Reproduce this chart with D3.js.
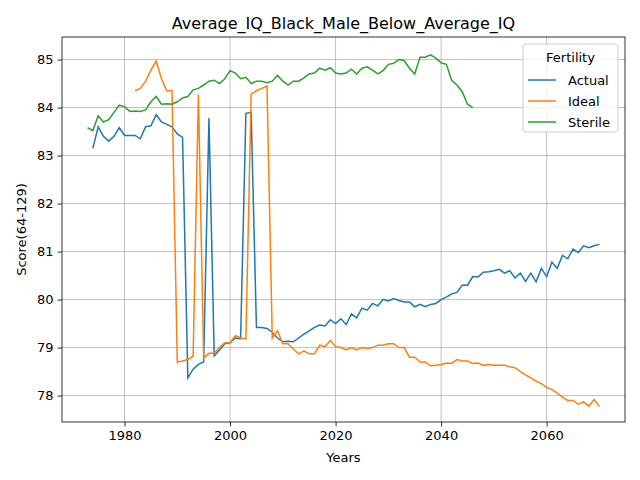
<!DOCTYPE html>
<html>
<head>
<meta charset="utf-8">
<script src="https://cdn.jsdelivr.net/npm/d3@7"></script>
<style>
  body { margin: 0; background: #fff; }
  text { font-family: "DejaVu Sans", sans-serif; }
</style>
</head>
<body>
<div id="chart"></div>
<script>
'use strict';

var actualStart = 1974;
var actualValues = [83.15, 83.6, 83.4, 83.3, 83.4, 83.58, 83.42, 83.42, 83.42, 83.35,
  83.6, 83.62, 83.85, 83.7, 83.65, 83.6, 83.45, 83.38, 78.37, 78.55,
  78.65, 78.7, 83.78, 78.83, 78.95, 79.08, 79.1, 79.2, 79.18, 83.88,
  83.9, 79.42, 79.42, 79.4, 79.32, 79.2, 79.12, 79.13, 79.12, 79.2,
  79.28, 79.35, 79.42, 79.47, 79.45, 79.58, 79.5, 79.6, 79.48, 79.7,
  79.62, 79.82, 79.78, 79.92, 79.87, 80.0, 79.97, 80.02, 79.98, 79.95,
  79.95, 79.85, 79.9, 79.85, 79.9, 79.92, 80.0, 80.05, 80.12, 80.15,
  80.3, 80.3, 80.48, 80.47, 80.57, 80.58, 80.6, 80.63, 80.55, 80.6,
  80.45, 80.55, 80.38, 80.55, 80.37, 80.65, 80.48, 80.78, 80.65, 80.92,
  80.85, 81.05, 80.98, 81.12, 81.08, 81.12, 81.15];

var idealStart = 1982;
var idealValues = [84.35, 84.4, 84.55, 84.78, 84.97, 84.6, 84.35, 84.35, 78.7, 78.72,
  78.75, 78.82, 84.27, 78.78, 78.88, 78.88, 79.0, 79.1, 79.1, 79.25,
  79.2, 79.18, 84.28, 84.35, 84.4, 84.45, 79.2, 79.35, 79.08, 79.08,
  78.97, 78.87, 78.93, 78.87, 78.87, 79.05, 79.02, 79.15, 79.02, 79.0,
  78.95, 79.0, 78.95, 79.0, 78.98, 79.0, 79.05, 79.05, 79.08, 79.08,
  79.0, 79.0, 78.8, 78.8, 78.7, 78.7, 78.62, 78.63, 78.65, 78.68,
  78.67, 78.75, 78.72, 78.72, 78.67, 78.68, 78.63, 78.65, 78.63, 78.63,
  78.63, 78.6, 78.58, 78.5, 78.43, 78.37, 78.3, 78.25, 78.17, 78.13,
  78.05, 77.97, 77.9, 77.9, 77.82, 77.87, 77.78, 77.92, 77.77];

var sterileStart = 1973;
var sterileValues = [83.58, 83.52, 83.83, 83.7, 83.75, 83.9, 84.05, 84.02, 83.92, 83.93,
  83.92, 83.95, 84.12, 84.23, 84.07, 84.08, 84.07, 84.12, 84.2, 84.23,
  84.37, 84.4, 84.47, 84.55, 84.57, 84.5, 84.6, 84.77, 84.72, 84.6,
  84.63, 84.5, 84.55, 84.55, 84.52, 84.55, 84.67, 84.55, 84.47, 84.55,
  84.55, 84.62, 84.7, 84.72, 84.82, 84.78, 84.83, 84.72, 84.7, 84.72,
  84.8, 84.7, 84.82, 84.85, 84.78, 84.7, 84.77, 84.9, 84.92, 85.0,
  84.98, 84.82, 84.7, 85.05, 85.05, 85.1, 85.03, 84.93, 84.9, 84.57,
  84.47, 84.33, 84.07, 84.0];

var seriesNames = ['Actual', 'Ideal', 'Sterile'];
var seriesColors = ['#1f77b4', '#ff7f0e', '#2ca02c'];
var xTicks = [1980, 2000, 2020, 2040, 2060];
var yTicks = [78, 79, 80, 81, 82, 83, 84, 85];

var width = 640, height = 480;
var margin = {top: 37, right: 15, bottom: 58, left: 62};

var toPoints = function(start, vals){
  return vals.map(function(v, i){ return {year: start + i, value: v}; });
};
var series = [
  toPoints(actualStart, actualValues),
  toPoints(idealStart, idealValues),
  toPoints(sterileStart, sterileValues)
];

var svg = d3.select('#chart').append('svg')
  .attr('width', width).attr('height', height);

var x = d3.scaleLinear().domain([1968.15, 2074.85])
  .range([margin.left, width - margin.right]);
var y = d3.scaleLinear().domain([77.45, 85.47])
  .range([height - margin.bottom, margin.top]);

// grid
svg.append('g').selectAll('line').data(xTicks).enter().append('line')
  .attr('x1', function(d){ return x(d); }).attr('x2', function(d){ return x(d); })
  .attr('y1', margin.top).attr('y2', height - margin.bottom)
  .attr('stroke', '#b0b0b0').attr('stroke-width', 0.8);
svg.append('g').selectAll('line').data(yTicks).enter().append('line')
  .attr('y1', function(d){ return y(d); }).attr('y2', function(d){ return y(d); })
  .attr('x1', margin.left).attr('x2', width - margin.right)
  .attr('stroke', '#b0b0b0').attr('stroke-width', 0.8);

var line = d3.line()
  .x(function(d){ return x(d.year); })
  .y(function(d){ return y(d.value); });

series.forEach(function(s, i){
  svg.append('path').datum(s)
    .attr('d', line)
    .attr('fill', 'none')
    .attr('stroke', seriesColors[i])
    .attr('stroke-width', 1.5);
});

// axes
var xAxis = svg.append('g')
  .attr('transform', 'translate(0,' + (height - margin.bottom) + ')')
  .call(d3.axisBottom(x).tickValues(xTicks).tickFormat(d3.format('d')).tickSizeOuter(0).tickSize(4.5).tickPadding(4));
var yAxis = svg.append('g')
  .attr('transform', 'translate(' + margin.left + ',0)')
  .call(d3.axisLeft(y).tickValues(yTicks).tickFormat(d3.format('d')).tickSizeOuter(0).tickSize(4.5).tickPadding(4));
[xAxis, yAxis].forEach(function(a){
  a.selectAll('text').attr('font-size', 13).attr('fill', '#000');
  a.selectAll('line').attr('stroke', '#000').attr('stroke-width', 0.8);
  a.select('.domain').remove();
});

svg.append('rect')
  .attr('x', margin.left).attr('y', margin.top)
  .attr('width', width - margin.left - margin.right)
  .attr('height', height - margin.top - margin.bottom)
  .attr('fill', 'none').attr('stroke', '#000').attr('stroke-width', 0.8);

svg.append('text').attr('x', (margin.left + width - margin.right) / 2).attr('y', 29)
  .attr('text-anchor', 'middle').attr('font-size', 16).text('Average_IQ_Black_Male_Below_Average_IQ');
svg.append('text').attr('x', (margin.left + width - margin.right) / 2).attr('y', 462)
  .attr('text-anchor', 'middle').attr('font-size', 13).text('Years');
svg.append('text').attr('transform', 'translate(26,' + ((margin.top + height - margin.bottom) / 2) + ') rotate(-90)')
  .attr('text-anchor', 'middle').attr('font-size', 13).text('Score(64-129)');

// legend
var lg = svg.append('g').attr('transform', 'translate(523,44)');
lg.append('rect').attr('width', 95).attr('height', 88).attr('rx', 3)
  .attr('fill', '#fff').attr('fill-opacity', 0.8).attr('stroke', '#ccc');
lg.append('text').attr('x', 47.5).attr('y', 18).attr('text-anchor', 'middle')
  .attr('font-size', 13).text('Fertility');
seriesNames.forEach(function(n, i){
  var yy = 36 + i * 21;
  lg.append('line').attr('x1', 5).attr('x2', 33).attr('y1', yy).attr('y2', yy)
    .attr('stroke', seriesColors[i]).attr('stroke-width', 1.5);
  lg.append('text').attr('x', 45).attr('y', yy + 5).attr('font-size', 13).text(n);
});
</script>
</body>
</html>
